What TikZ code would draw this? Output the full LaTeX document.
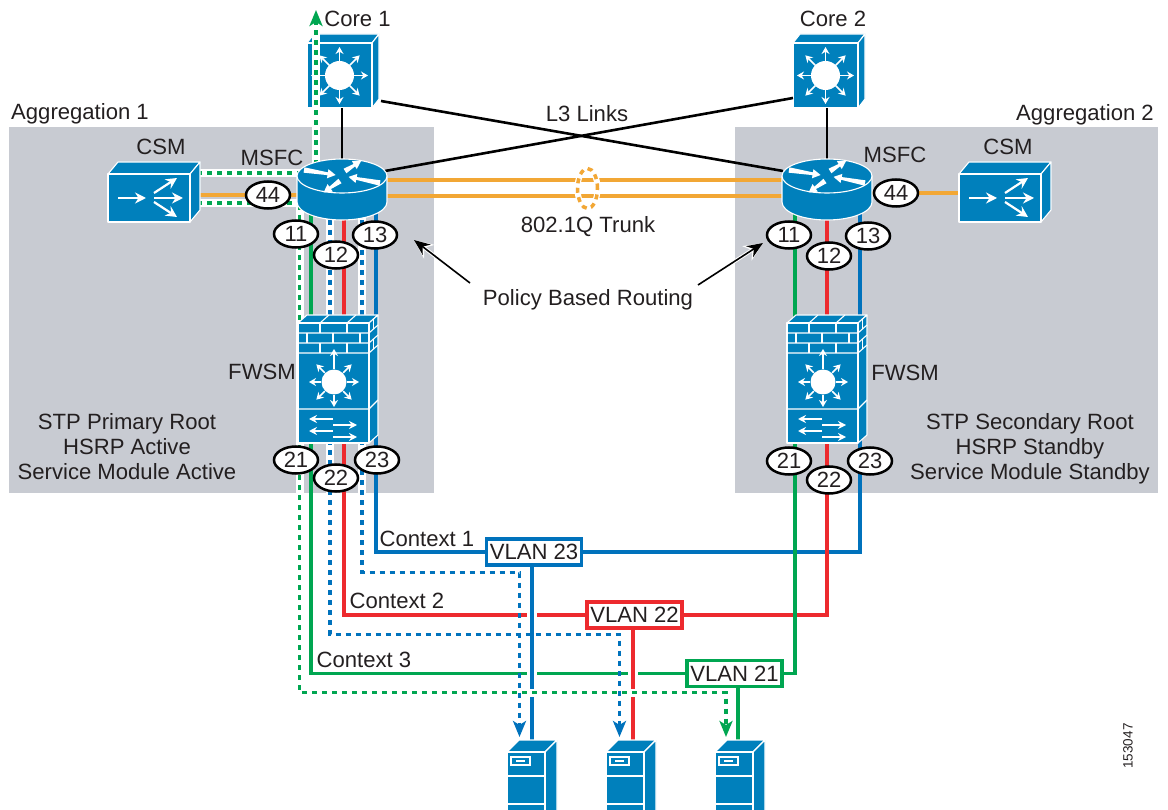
\documentclass[tikz,border=0pt]{standalone}
\usepackage{fontspec}
\setmainfont{Liberation Sans}
\usetikzlibrary{arrows.meta,shapes.geometric,calc}
\definecolor{ciscoblue}{HTML}{0080BC}
\definecolor{lineblue}{HTML}{0072BC}
\definecolor{linered}{HTML}{ED2A2E}
\definecolor{linegreen}{HTML}{00A651}
\definecolor{lineorange}{HTML}{F2A735}
\definecolor{zonegray}{HTML}{C8CBD2}
\definecolor{inkgray}{HTML}{231F20}
\tikzset{
  lbl/.style={text=inkgray,inner sep=0pt,font=\fontsize{22.1}{25}\selectfont,align=center},
  port/.style={ellipse,draw=black,fill=white,line width=2.5,minimum width=44,minimum height=27,inner sep=0pt,text=inkgray,font=\fontsize{22}{25}\selectfont},
  vlanbox/.style={draw=#1,fill=white,line width=3.8,minimum width=95,minimum height=26,inner sep=0pt,text=inkgray,font=\fontsize{22.1}{25}\selectfont},
  halo/.style={draw=white,line width=8},
  stubhalo/.style={draw=white,line width=10},
  dotline/.style={draw=#1,line width=3.6,dash pattern=on 5pt off 5pt},
  tipdot/.style={-{Stealth[length=16,width=13,inset=4]}},
  solidline/.style={draw=#1,line width=3.6},
  icon/.style={fill=ciscoblue,draw=white,line width=1.1,line join=round},
  iconline/.style={draw=white,line width=1.1},
  spoke/.style={draw=white,line width=1.7,-{Stealth[length=7,width=8]}},
  fanline/.style={draw=white,line width=2.2,-{Stealth[length=11,width=11]}},
  pics/corecube/.style={code={
    \draw[icon] (0,0) -- (7,-9) -- (72,-9) -- (65,0) -- cycle;
    \draw[icon] (65,0) -- (72,-9) -- (72,56) -- (65,65) -- cycle;
    \draw[icon] (0,0) rectangle (65,65);
    \fill[white] (32.5,32.5) circle (14.5);
    \foreach \a in {0,45,...,315}
      \draw[spoke] ($(32.5,32.5)+(\a:14.5)$) -- ($(32.5,32.5)+(\a:28.5)$);
  }},
  pics/lbcube/.style={code={
    \draw[icon] (0,0) -- (10,-12) -- (92,-12) -- (82,0) -- cycle;
    \draw[icon] (82,0) -- (92,-12) -- (92,36) -- (82,48) -- cycle;
    \draw[icon] (0,0) rectangle (82,48);
    \draw[fanline] (10,24) -- (38,24);
    \draw[fanline] (46,19) -- (69,4);
    \draw[fanline] (46,24) -- (75,24);
    \draw[fanline] (46,28) -- (69,43);
  }},
  pics/msfc/.style={code={
    \draw[icon] (-45,0) -- (-45,26) arc[start angle=180,end angle=0,x radius=45,y radius=18] -- (45,0) -- cycle;
    \draw[icon] (0,0) ellipse[x radius=45,y radius=17];
    \foreach \px/\py/\a/\len in {-38/-6/-9/32, 38/7/169/32, 3/-5/32/19, -2/5/215/20}
      \fill[white,shift={(\px,\py)},rotate=\a] (0,-2.7) -- (0,2.7) -- (\len-8,1.4) -- (\len-8,4.6) -- (\len,0) -- (\len-8,-4.6) -- (\len-8,-1.4) -- cycle;
  }},
  pics/fwsm/.style={code={
    \draw[icon] (0,0) -- (9,-8) -- (80,-8) -- (71,0) -- cycle;
    \draw[icon] (71,0) -- (80,-8) -- (80,112) -- (71,120) -- cycle;
    \draw[icon] (0,0) rectangle (71,120);
    \foreach \y in {10,20,30}
      \draw[iconline] (0,\y) -- (71,\y) (71,\y) -- (80,\y-8);
    \draw[iconline] (0,86) -- (71,86) (71,86) -- (80,77);
    \foreach \x in {22,49} {
      \draw[iconline] (\x,0) -- (\x,10) (\x,20) -- (\x,30);
      \draw[iconline] (\x,0) -- (\x+9,-8);
    }
    \foreach \x in {9,35,62}
      \draw[iconline] (\x,10) -- (\x,20);
    \draw[iconline] (75.5,-4) -- (75.5,6) (75.5,16) -- (75.5,26);
    \fill[white] (36,59) circle (12.5);
    \foreach \a/\r in {0/25,45/25,90/25,135/25,180/25,225/25,270/33,315/25}
      \draw[spoke] ($(36,59)+(\a:13)$) -- ($(36,59)+(\a:\r)$);
    \foreach \y in {96,108}
      \draw[fanline,-{Stealth[length=8,width=8]}] (35,\y) -- (11,\y);
    \foreach \y in {102,114}
      \draw[fanline,-{Stealth[length=8,width=8]}] (35,\y) -- (59,\y);
  }},
  pics/srv/.style={code={
    \draw[icon] (0,0) -- (12,-12) -- (50,-12) -- (38,0) -- cycle;
    \draw[icon] (38,0) -- (50,-12) -- (50,60) -- (38,72) -- cycle;
    \draw[icon] (0,0) rectangle (38,72);
    \draw[iconline] (4,5) rectangle (23,13);
    \draw[iconline] (9,9) -- (18,9);
    \draw[iconline] (0,24) -- (38,24) (0,52) -- (38,52);
  }}
}
\begin{document}
\begin{tikzpicture}[x=1pt,y=-1pt]
  \useasboundingbox (0,0) rectangle (1168,810);
  \clip (0,0) rectangle (1168,810);
  \fill[zonegray] (9,127) rectangle (434,493);
  \fill[zonegray] (735,127) rectangle (1158,493);

  \draw (342,108) coordinate (C1S);
  \draw (381,101) coordinate (C1E);
  \draw (827,108) coordinate (C2S);
  \draw (793,98) coordinate (C2W);
  \draw (342,162) coordinate (M1N);
  \draw (827,162) coordinate (M2N);
  \draw (385,171) coordinate (M1NE);
  \draw (783,171) coordinate (M2NW);
  \draw (380,180) coordinate (M1A);
  \draw (380,196) coordinate (M1B);
  \draw (790,180) coordinate (M2A);
  \draw (790,196) coordinate (M2B);
  \draw (195,195) coordinate (L1E);
  \draw (305,195) coordinate (M1W);
  \draw (865,193) coordinate (M2E);
  \draw (965,193) coordinate (L2W);
  \draw (197,173) coordinate (L1A);
  \draw (300,173) coordinate (M1C);
  \draw (197,203) coordinate (L1B);
  \draw (300,203) coordinate (M1D);
  \draw (316,165) coordinate (M1U);
  \draw (316,10) coordinate (UP);
  \draw (299.5,205) coordinate (M1G);
  \draw (311,210) coordinate (M1G2);
  \draw (344,210) coordinate (M1R);
  \draw (376,210) coordinate (M1L);
  \draw (330,210) coordinate (M1D2);
  \draw (362,210) coordinate (M1D1);
  \draw (795,210) coordinate (M2G);
  \draw (827,210) coordinate (M2R);
  \draw (860,210) coordinate (M2L);
  \draw (532,742) coordinate (S1T);
  \draw (633,742) coordinate (S2T);
  \draw (738,742) coordinate (S3T);
  \draw (519.5,737) coordinate (S1D);
  \draw (619.5,737) coordinate (S2D);
  \draw (726,737) coordinate (S3D);
  \draw (519.5,572.5) coordinate (D1C);
  \draw (619.5,634.5) coordinate (D2C);
  \draw (726,692.5) coordinate (D3C);
  \draw (470,283) coordinate (PA);
  \draw (414,240) coordinate (PB);
  \draw (698,285) coordinate (PC);
  \draw (763,243) coordinate (PD);

  \pic at (307,43) {corecube};
  \pic at (793,43) {corecube};

  \node[vlanbox=lineblue] (vlan23) at (534,552) {VLAN 23};
  \node[vlanbox=linered] (vlan22) at (634.5,615) {VLAN 22};
  \node[vlanbox=linegreen] (vlan21) at (734.5,673.5) {VLAN 21};

  \draw[line width=2.6] (C1S) -- (M1N);
  \draw[line width=2.6] (C2S) -- (M2N);
  \draw[line width=2.6] (C1E) -- (M2NW);
  \draw[line width=2.6] (C2W) -- (M1NE);
  \draw[solidline=lineorange] (M1A) -- (M2A);
  \draw[solidline=lineorange] (M1B) -- (M2B);
  \draw[solidline=lineorange] (L1E) -- (M1W);
  \draw[solidline=lineorange] (M2E) -- (L2W);

  \draw[solidline=lineblue] (M1L) |- (vlan23.west);
  \draw[solidline=lineblue] (vlan23.east) -| (M2L);
  \draw[solidline=linered] (M1R) |- (vlan22.west);
  \draw[solidline=linered] (vlan22.east) -| (M2R);
  \draw[solidline=linegreen] (M1G2) |- (vlan21.west);
  \draw[solidline=linegreen] (vlan21.east) -| (M2G);

  \draw[stubhalo] (S1T |- vlan23.south) -- (S1T);
  \draw[solidline=lineblue] (S1T |- vlan23.south) -- (S1T);
  \draw[stubhalo] (S2T |- vlan22.south) -- (S2T);
  \draw[solidline=linered] (S2T |- vlan22.south) -- (S2T);
  \draw[stubhalo] (S3T |- vlan21.south) -- (S3T);
  \draw[solidline=linegreen] (S3T |- vlan21.south) -- (S3T);

  \draw[halo] (M1U) -- (UP |- 0,26);
  \draw[halo] (L1A) -- (M1C);
  \draw[halo] (L1B) -- (M1D);
  \draw[halo] (M1G) |- (D3C);
  \draw[halo] (M1D1) -- (M1D1 |- 0,493);
  \draw[halo] (M1D2) -- (M1D2 |- 0,493);
  \draw[dotline=linegreen,tipdot] (M1U) -- (UP);
  \draw[dotline=linegreen] (L1A) -- (M1C);
  \draw[dotline=linegreen] (L1B) -- (M1D);
  \draw[dotline=linegreen,tipdot] (M1G) |- (D3C) -- (S3D);
  \draw[dotline=lineblue,tipdot] (M1D1) |- (D1C) -- (S1D);
  \draw[dotline=lineblue,tipdot] (M1D2) |- (D2C) -- (S2D);

  \pic at (108,174) {lbcube};
  \pic at (959,174) {lbcube};
  \pic at (342,176) {msfc};
  \pic at (827,176) {msfc};
  \pic at (298,323) {fwsm};
  \pic at (787,323) {fwsm};
  \pic at (507,752) {srv};
  \pic at (606,752) {srv};
  \pic at (715,752) {srv};

  \node[port] (p144) at (268,195) {44};
  \node[port] (p111) at (296,234) {11};
  \node[port] (p112) at (336,255) {12};
  \node[port] (p113) at (375,235) {13};
  \node[port] (p121) at (296,460) {21};
  \node[port] (p122) at (336,478) {22};
  \node[port] (p123) at (377,460) {23};
  \node[port] (p244) at (896,193) {44};
  \node[port] (p211) at (789,235) {11};
  \node[port] (p212) at (829,256) {12};
  \node[port] (p213) at (868,236) {13};
  \node[port] (p221) at (789,461) {21};
  \node[port] (p222) at (829,480) {22};
  \node[port] (p223) at (870,461) {23};

  \node[ellipse,draw=white,line width=6,minimum width=20,minimum height=40,inner sep=0pt] (trunkhalo) at (587.5,188.5) {};
  \node[ellipse,draw=lineorange,line width=3.5,dash pattern=on 5pt off 4.5pt,minimum width=20,minimum height=40,inner sep=0pt] (trunkring) at (587.5,188.5) {};

  \draw[draw=white,line width=3.6,-{Stealth[length=19,width=17]}] (PA) -- (PB);
  \draw[draw=white,line width=3.6,-{Stealth[length=19,width=17]}] (PC) -- (PD);
  \draw[line width=1.6,-{Stealth[length=16,width=13]}] (PA) -- (PB);
  \draw[line width=1.6,-{Stealth[length=16,width=13]}] (PC) -- (PD);

  \node[lbl] (core1) at (357.5,19) {Core 1};
  \node[lbl] (core2) at (833,19) {Core 2};
  \node[lbl] (agg1) at (80,114) {Aggregation 1};
  \node[lbl] (agg2) at (1085,115) {Aggregation 2};
  \node[lbl] (csm1) at (161,147) {CSM};
  \node[lbl] (csm2) at (1008,147) {CSM};
  \node[lbl] (msfc1) at (272,158) {MSFC};
  \node[lbl] (msfc2) at (895,155) {MSFC};
  \node[lbl] (l3) at (587,114) {L3 Links};
  \node[lbl] (trunk) at (588,226.5) {802.1Q Trunk};
  \node[lbl] (pbr) at (588,300) {Policy Based Routing};
  \node[lbl] (fwsm1) at (262,372) {FWSM};
  \node[lbl] (fwsm2) at (905,373) {FWSM};
  \node[lbl] (state1) at (127,447) {STP Primary Root\\HSRP Active\\Service Module Active};
  \node[lbl] (state2) at (1030,448.5) {STP Secondary Root\\HSRP Standby\\Service Module Standby};
  \node[lbl] (ctx1) at (427,539) {Context 1};
  \node[lbl] (ctx2) at (397,601) {Context 2};
  \node[lbl] (ctx3) at (364,660) {Context 3};
  \node[lbl,font=\fontsize{13.5}{16}\selectfont,rotate=90] (figno) at (1128,746) {153047};
\end{tikzpicture}
\end{document}
